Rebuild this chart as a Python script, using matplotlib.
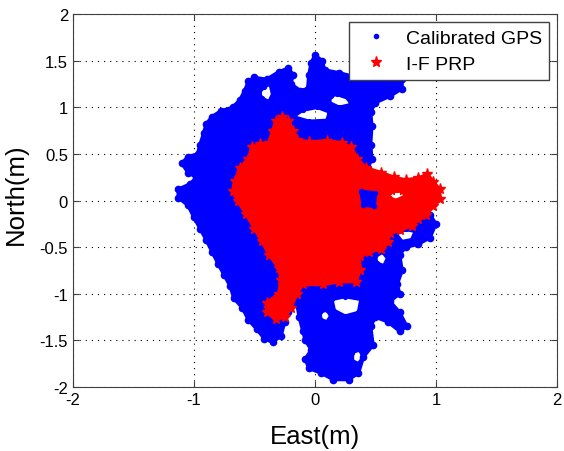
import matplotlib.pyplot as plt
from matplotlib.lines import Line2D
from matplotlib.path import Path
from matplotlib.patches import PathPatch

plt.rcParams['font.family'] = ['Liberation Sans', 'DejaVu Sans']

# Calibrated GPS cover (East, North in m), outline
gps_x = [0.0, 0.06, 0.08, 0.2, 0.35, 0.5, 0.62, 0.72, 0.72, 0.62, 0.5, 0.46, 0.47, 0.46,
         0.47, 0.44, 0.45, 0.5, 0.55, 0.8, 0.95, 1.0, 0.95, 0.85, 0.75, 0.7, 0.72, 0.68,
         0.7, 0.62, 0.7, 0.76, 0.7, 0.6, 0.5, 0.46, 0.48, 0.4, 0.36, 0.28, 0.15, 0.05,
         -0.05, -0.08, -0.03, -0.08, -0.1, -0.13, -0.15, -0.22, -0.25, -0.28, -0.35, -0.42,
         -0.48, -0.55, -0.6, -0.67, -0.7, -0.75, -0.8, -0.85, -0.9, -0.95, -1.0, -1.05,
         -1.13, -1.13, -1.03, -0.98, -1.05, -1.1, -1.05, -0.97, -0.95, -0.92, -0.9, -0.85,
         -0.78, -0.68, -0.62, -0.58, -0.55, -0.5, -0.4, -0.3, -0.22, -0.18, -0.2, -0.12,
         -0.06, -0.05, -0.03]
gps_y = [1.56, 1.5, 1.4, 1.37, 1.32, 1.31, 1.3, 1.3, 1.2, 1.12, 1.05, 0.95, 0.8, 0.6,
         0.45, 0.35, 0.1, -0.05, -0.18, -0.18, -0.15, -0.25, -0.4, -0.47, -0.5, -0.58, -0.75, -0.9,
         -1.0, -1.08, -1.2, -1.35, -1.4, -1.3, -1.25, -1.35, -1.55, -1.68, -1.85, -1.92, -1.92, -1.85,
         -1.8, -1.7, -1.6, -1.5, -1.4, -1.25, -1.1, -1.2, -1.3, -1.45, -1.52, -1.48,
         -1.38, -1.28, -1.15, -1.05, -0.92, -0.8, -0.68, -0.55, -0.42, -0.3, -0.18, -0.05,
         0.03, 0.12, 0.18, 0.25, 0.3, 0.4, 0.47, 0.5, 0.6, 0.72, 0.82, 0.9,
         0.96, 1.0, 1.08, 1.18, 1.28, 1.32, 1.3, 1.38, 1.42, 1.35, 1.25, 1.18,
         1.2, 1.35, 1.48]

# white gaps inside the GPS cover
gps_holes = [
    ([-0.44, -0.38, -0.35, -0.37, -0.42, -0.46], [1.1, 1.06, 1.14, 1.25, 1.22, 1.16]),
    ([-0.18, -0.05, 0.1, 0.12, 0.02, -0.1], [0.9, 0.85, 0.86, 0.95, 1.0, 0.97]),
    ([0.12, 0.2, 0.3, 0.27, 0.18, 0.13], [1.05, 1.0, 1.03, 1.1, 1.14, 1.12]),
    ([0.14, 0.25, 0.38, 0.36, 0.25, 0.16], [-1.06, -1.03, -1.06, -1.2, -1.24, -1.18]),
    ([0.04, 0.1, 0.13, 0.1, 0.05], [-1.2, -1.17, -1.24, -1.3, -1.28]),
    ([0.31, 0.37, 0.4, 0.36, 0.31], [-1.63, -1.6, -1.68, -1.75, -1.72]),
    ([0.5, 0.56, 0.6, 0.57, 0.51], [-0.6, -0.55, -0.62, -0.7, -0.67]),
    ([0.67, 0.75, 0.83, 0.8, 0.72], [-0.36, -0.31, -0.33, -0.42, -0.44]),
]

# blue patch that shows through the red east lobe
spot_x = [0.38, 0.5, 0.49, 0.4]
spot_y = [0.1, 0.08, -0.06, -0.05]

# I-F PRP cover
prp_x = [-0.27, -0.22, -0.18, -0.15, -0.05, 0.1, 0.22, 0.3, 0.35, 0.42, 0.55, 0.65, 0.75,
         0.85, 0.93, 0.98, 1.03, 1.03, 0.98, 0.92, 0.85, 0.8, 0.7, 0.62, 0.6, 0.55, 0.45, 0.37,
         0.37, 0.34, 0.2, 0.07, -0.1, -0.15, -0.2, -0.25, -0.32, -0.4, -0.4, -0.3, -0.28,
         -0.3, -0.38, -0.44, -0.5, -0.57, -0.64, -0.68, -0.66, -0.62, -0.55, -0.52, -0.45,
         -0.38, -0.35, -0.32]
prp_y = [0.9, 0.85, 0.75, 0.65, 0.63, 0.64, 0.62, 0.57, 0.45, 0.35, 0.3, 0.25, 0.22,
         0.24, 0.28, 0.2, 0.12, 0.02, -0.06, -0.15, -0.2, -0.27, -0.32, -0.35, -0.45, -0.52, -0.55, -0.6,
         -0.75, -0.87, -0.87, -0.9, -0.9, -1.0, -1.15, -1.25, -1.27, -1.2, -1.1, -1.0, -0.85,
         -0.72, -0.58, -0.43, -0.3, -0.14, 0.0, 0.1, 0.21, 0.35, 0.45, 0.57, 0.61,
         0.62, 0.75, 0.85]
prp_holes = [([0.6, 0.67, 0.75, 0.72, 0.64], [0.04, 0.0, 0.05, 0.1, 0.1])]

blue = (0, 0, 1)
red = (1, 0, 0)


def area(xs, ys):
    n = len(xs)
    return sum(xs[i] * ys[(i + 1) % n] - xs[(i + 1) % n] * ys[i] for i in range(n))


def region(ax, xs, ys, holes, color, marker, ms):
    verts, codes = [], []
    sign = area(xs, ys) > 0
    rings = [(list(xs), list(ys))]
    for hx, hy in holes:
        if (area(hx, hy) > 0) == sign:
            hx, hy = hx[::-1], hy[::-1]
        rings.append((list(hx), list(hy)))
    for rx, ry in rings:
        verts += list(zip(rx, ry)) + [(rx[0], ry[0])]
        codes += [Path.MOVETO] + [Path.LINETO] * (len(rx) - 1) + [Path.CLOSEPOLY]
    ax.add_patch(PathPatch(Path(verts, codes), facecolor=color, edgecolor=color,
                           lw=2.5, joinstyle='round', zorder=2))
    ax.plot(xs, ys, marker, color=color, ms=ms, ls='none', zorder=2)
    for hx, hy in holes:
        ax.plot(hx, hy, marker, color=color, ms=ms * 0.6, ls='none', zorder=2)


fig = plt.figure(figsize=(5.64, 4.52), dpi=100)
ax = fig.add_axes([0.1294, 0.1416, 0.858, 0.825])

region(ax, gps_x, gps_y, gps_holes, blue, '.', 9)
region(ax, prp_x, prp_y, prp_holes, red, '*', 8)
region(ax, spot_x, spot_y, [], blue, '.', 6)

ax.set_xlim(-2, 2)
ax.set_ylim(-2, 2)
ax.set_xticks([-2, -1, 0, 1, 2])
ax.set_yticks([-2, -1.5, -1, -0.5, 0, 0.5, 1, 1.5, 2])
ax.set_xticklabels(['-2', '-1', '0', '1', '2'])
ax.set_yticklabels(['-2', '-1.5', '-1', '-0.5', '0', '0.5', '1', '1.5', '2'])
ax.grid(True, linestyle=(0, (1, 4.5)), color='black', linewidth=0.8)
ax.set_axisbelow(True)
ax.tick_params(direction='in', labelsize=12, top=True, right=True, length=4,
               color='#404040')
for s in ax.spines.values():
    s.set_color('#404040')
ax.set_xlabel('East(m)', fontsize=18.5, labelpad=12)
ax.set_ylabel('North(m)', fontsize=18.5)
ax.yaxis.set_label_coords(-0.093, 0.52)

handles = [Line2D([], [], marker='.', color=blue, ls='none', ms=6),
           Line2D([], [], marker='*', color=red, ls='none', ms=8)]
leg = ax.legend(handles, ['Calibrated GPS', 'I-F PRP'], loc='upper right', fontsize=14,
                fancybox=False, framealpha=1, edgecolor='#404040', borderaxespad=0.42,
                handletextpad=0.55, handlelength=2.0, borderpad=0.35, labelspacing=0.45)
leg.get_frame().set_linewidth(1.0)
leg.set_zorder(5)

fig.savefig('out.png', dpi=100)
